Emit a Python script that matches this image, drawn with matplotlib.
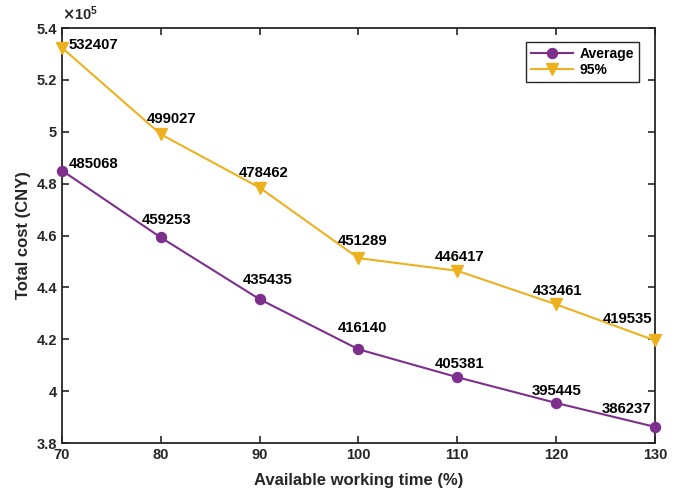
import numpy as np
import matplotlib.pyplot as plt
from matplotlib.ticker import FuncFormatter

plt.rcParams['font.family'] = ['Liberation Sans', 'DejaVu Sans']
plt.rcParams['font.weight'] = 'bold'

time_pct = [70, 80, 90, 100, 110, 120, 130]
cost_avg = [485068, 459253, 435435, 416140, 405381, 395445, 386237]
cost_95 = [532407, 499027, 478462, 451289, 446417, 433461, 419535]

# label offsets in pixels (left edge, baseline)
off_avg = [(7, 3), (-19, 13), (-17, 15), (-21, 17), (-23, 9), (-24, 8), (-53, 14)]
off_95 = [(7, -1), (-14, 11), (-21, 11), (-21, 13), (-23, 10), (-23, 9), (-52, 17)]

purple = '#7E2F8E'
orange = '#EDB120'

fig = plt.figure(figsize=(6.78, 4.94), dpi=100)
ax = fig.add_axes([0.0914, 0.1032, 0.8746, 0.840])

ax.plot(time_pct, cost_avg, '-o', color=purple, lw=1.5, ms=7.2, label='Average', clip_on=False, zorder=3)
ax.plot(time_pct, cost_95, '-v', color=orange, lw=1.5, ms=9, label='95%', clip_on=False, zorder=3)

for x, y, o in zip(time_pct, cost_avg, off_avg):
    ax.annotate(str(y), (x, y), xytext=o, textcoords='offset pixels',
                fontsize=10.7, fontweight='bold', ha='left', va='baseline')
for x, y, o in zip(time_pct, cost_95, off_95):
    ax.annotate(str(y), (x, y), xytext=o, textcoords='offset pixels',
                fontsize=10.7, fontweight='bold', ha='left', va='baseline')

ax.set_xlim(70, 130)
ax.set_ylim(3.8e5, 5.4e5)
ax.set_xticks(time_pct)
ax.set_yticks(np.arange(3.8e5, 5.41e5, 0.2e5))
ax.yaxis.set_major_formatter(FuncFormatter(lambda v, p: '%g' % round(v / 1e5, 1)))
ax.tick_params(direction='in', length=5, width=1.2, labelsize=10.5, top=True, right=True, colors='#262626')
ax.tick_params(labelcolor='#262626')
for s in ax.spines.values():
    s.set_linewidth(1.3)
    s.set_color('#262626')

ax.text(0.0, 1.012, r'$\times\mathregular{10^5}$', transform=ax.transAxes, fontsize=10.5,
        ha='left', va='bottom', color='#262626')

ax.set_xlabel('Available working time (%)', fontsize=12, fontweight='bold', color='#262626', labelpad=8)
ax.set_ylabel('Total cost (CNY)', fontsize=12, fontweight='bold', color='#262626', labelpad=4)

leg = ax.legend(loc='upper right', bbox_to_anchor=(0.973, 0.966), fontsize=10, fancybox=False,
                edgecolor='#262626', framealpha=1, handlelength=3.0, handletextpad=0.5,
                labelspacing=0.15, borderpad=0.35, borderaxespad=0)
leg.get_frame().set_linewidth(1.0)

fig.savefig('out.png', dpi=100)
